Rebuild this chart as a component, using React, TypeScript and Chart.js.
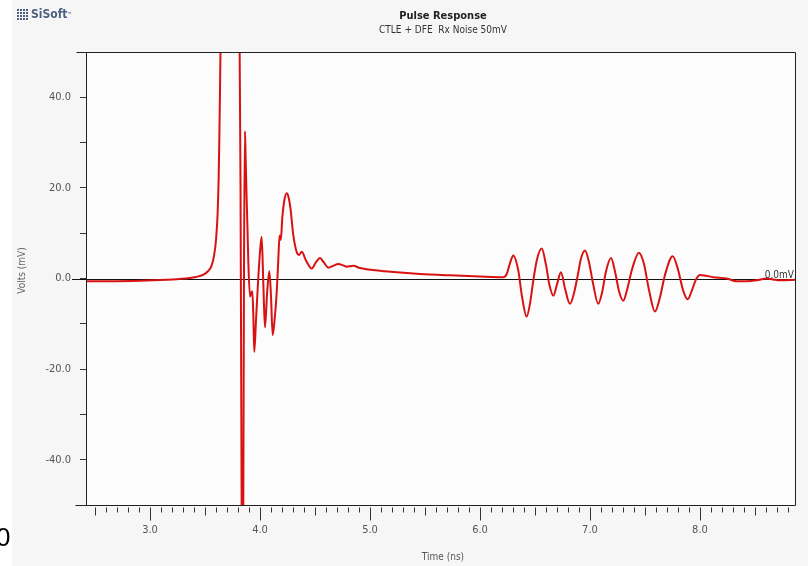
import React, { useEffect, useRef } from "react";
import { Chart, registerables } from "chart.js";

Chart.register(...registerables);

// ---- data ----
const TIME_NS = [
  2.418, 2.636, 2.909, 3.091, 3.209, 3.327, 3.418, 3.482, 3.527, 3.559, 3.582, 3.6, 3.614, 3.624, 3.631, 3.638,
  3.647, 3.673, 3.727, 3.782, 3.809, 3.823, 3.833, 3.84, 3.847, 3.855, 3.863, 3.869, 3.877, 3.885, 3.894,
  3.909, 3.92, 3.93, 3.939, 3.948, 3.964, 3.984, 4.002, 4.015, 4.03, 4.045, 4.065, 4.085, 4.1, 4.115, 4.133,
  4.152, 4.166, 4.178, 4.189, 4.203, 4.223, 4.243, 4.259, 4.277, 4.303, 4.334, 4.356, 4.379, 4.418, 4.47,
  4.509, 4.545, 4.582, 4.621, 4.664, 4.712, 4.755, 4.788, 4.848, 4.909, 5.091, 5.273, 5.455, 5.727, 6.0,
  6.212, 6.243, 6.273, 6.303, 6.348, 6.382, 6.424, 6.455, 6.485, 6.518, 6.561, 6.6, 6.632, 6.667, 6.7,
  6.736, 6.773, 6.818, 6.855, 6.891, 6.918, 6.955, 6.991, 7.027, 7.075, 7.109, 7.145, 7.191, 7.227, 7.264,
  7.303, 7.336, 7.382, 7.445, 7.491, 7.536, 7.591, 7.636, 7.682, 7.752, 7.8, 7.845, 7.888, 7.927, 7.964,
  8.0, 8.055, 8.121, 8.243, 8.333, 8.418, 8.515, 8.606, 8.664, 8.727, 8.873,
];
const VOLTS_MV = [
  -0.6, -0.6, -0.5, -0.35, -0.2, 0.0, 0.35, 0.8, 1.6, 2.8, 5.0, 8.5, 14, 22, 32, 45,
  62, 110, 175, 140, 70, 20, -50, -110, -60, 5, 32.5, 27, 19, 12, 3.5,
  -4, -3.2, -2.8, -8, -16.2, -9, 0, 6.5, 9.2, -1, -10.8, -3, 1.6, -4, -12.5, -9,
  -3, 4, 9.5, 8.5, 13.5, 17.5, 18.8, 18, 15.5, 9.5, 5.8, 5.2, 5.9, 4.0, 2.2,
  3.6, 4.5, 3.5, 2.4, 2.8, 3.2, 2.9, 2.6, 2.8, 2.3, 1.7, 1.3, 1.0, 0.7, 0.45,
  0.3, 1.0, 3.4, 5.1, 1.8, -4, -8.4, -5.5, -0.4, 4.2, 6.6, 3, -1.5, -3.8, -1.3,
  1.4, -2.2, -5.6, -3.2, 1, 4.4, 6.2, 3.6, -1, -5.6, -3.2, 1.5, 4.5, 1.6, -2.8,
  -4.9, -2.6, 2, 5.7, 3.2, -2.5, -7.3, -4.2, 0.8, 4.9, 2, -2.5, -4.6, -2.6, -0.2,
  0.8, 0.6, 0.3, 0, -0.6, -0.6, -0.4, 0, -0.2, -0.4, -0.3,
];

const X_TICKS = [3, 4, 5, 6, 7, 8];
const Y_TICKS = [-40, -30, -20, -10, 0, 10, 20, 30, 40];
const Y_LABELED = [-40, -20, 0, 20, 40];
const X_MIN = 2.418;
const X_MAX = 8.873;
const Y_MIN = -50;
const Y_MAX = 50;
const X_MINOR_STEP = 0.1;

const TITLE = "Pulse Response";
const SUBTITLE = "CTLE + DFE  Rx Noise 50mV";
const X_TITLE = "Time (ns)";
const Y_TITLE = "Volts (mV)";
const REF_LABEL = "0.0mV";

const FONT = '"DejaVu Sans Condensed", "DejaVu Sans", sans-serif';
const LINE_COLOR = "#d81212";

const framePlugin = {
  id: "frame",
  beforeDraw(chart: any) {
    const { ctx, width, height, chartArea: a } = chart;
    ctx.save();
    ctx.fillStyle = "#ffffff";
    ctx.fillRect(0, 0, width, height);
    ctx.fillStyle = "#f6f6f6";
    ctx.fillRect(12, 0, width - 12, height);
    ctx.fillStyle = "#fcfcfc";
    ctx.fillRect(a.left, a.top, a.right - a.left, a.bottom - a.top);
    ctx.restore();
  },
  beforeDatasetsDraw(chart: any) {
    const { ctx, chartArea: a } = chart;
    const y0 = Math.round(chart.scales.y.getPixelForValue(0)) + 0.5;
    ctx.save();
    ctx.strokeStyle = "#111";
    ctx.lineWidth = 1;
    ctx.beginPath();
    ctx.moveTo(a.left - 14, y0);
    ctx.lineTo(a.right, y0);
    ctx.stroke();
    ctx.restore();
  },
  afterDraw(chart: any) {
    const { ctx, chartArea: a } = chart;
    const xs = chart.scales.x;
    const ys = chart.scales.y;
    ctx.save();
    ctx.strokeStyle = "#222";
    ctx.lineWidth = 1;
    const L = Math.round(a.left) + 0.5;
    const R = Math.round(a.right) - 0.5;
    const T = Math.round(a.top) + 0.5;
    const B = Math.round(a.bottom) + 0.5;
    ctx.beginPath();
    ctx.moveTo(L - 10, T);
    ctx.lineTo(R, T);
    ctx.moveTo(L - 11, B);
    ctx.lineTo(R, B);
    ctx.moveTo(L, T);
    ctx.lineTo(L, B);
    ctx.moveTo(R, T);
    ctx.lineTo(R, B);
    ctx.stroke();

    // x tick marks: minor 0.1, half 0.5, major 1.0
    ctx.strokeStyle = "#333";
    ctx.beginPath();
    const first = Math.ceil(X_MIN / X_MINOR_STEP);
    const last = Math.floor(X_MAX / X_MINOR_STEP);
    for (let k = first; k <= last; k++) {
      const x = Math.round(xs.getPixelForValue(k * X_MINOR_STEP)) + 0.5;
      const len = k % 10 === 0 ? 13 : k % 5 === 0 ? 8 : 5;
      ctx.moveTo(x, B + 2);
      ctx.lineTo(x, B + 2 + len);
    }
    ctx.stroke();

    // texts
    const cx = (a.left + a.right) / 2 + 2;
    ctx.textAlign = "center";
    ctx.textBaseline = "alphabetic";
    ctx.fillStyle = "#222";
    ctx.font = `bold 11px ${FONT}`;
    ctx.fillText(TITLE, cx, 19);
    ctx.fillStyle = "#333";
    ctx.font = `10px ${FONT}`;
    ctx.fillText(SUBTITLE, cx, 33);

    ctx.fillStyle = "#555";
    ctx.font = `10px ${FONT}`;
    ctx.textBaseline = "middle";
    ctx.fillText(X_TITLE, cx, 557);

    ctx.save();
    ctx.translate(22, (a.top + a.bottom) / 2 - 8);
    ctx.rotate(-Math.PI / 2);
    ctx.fillStyle = "#666";
    ctx.fillText(Y_TITLE, 0, 0);
    ctx.restore();

    ctx.textAlign = "right";
    ctx.textBaseline = "alphabetic";
    ctx.fillStyle = "#333";
    ctx.fillText(REF_LABEL, a.right - 2, ys.getPixelForValue(0) - 1);
    ctx.restore();
  },
};

export default function App() {
  const ref = useRef<HTMLCanvasElement | null>(null);

  useEffect(() => {
    if (!ref.current) return;
    const chart = new Chart(ref.current, {
      type: "line",
      data: {
        datasets: [
          {
            data: TIME_NS.map((t, i) => ({ x: t, y: VOLTS_MV[i] })),
            borderColor: LINE_COLOR,
            borderWidth: 2,
            pointRadius: 0,
            cubicInterpolationMode: "monotone",
            fill: false,
          },
        ],
      },
      options: {
        animation: false,
        responsive: false,
        devicePixelRatio: 1,
        layout: { padding: { left: 13, right: 12, top: 52, bottom: 0 } },
        plugins: {
          legend: { display: false },
          title: { display: false },
          tooltip: { enabled: false },
        },
        scales: {
          x: {
            type: "linear",
            min: X_MIN,
            max: X_MAX,
            afterBuildTicks: (s: any) => {
              s.ticks = X_TICKS.map((v) => ({ value: v }));
            },
            afterFit: (s: any) => {
              s.height = 61;
            },
            border: { display: false },
            grid: { drawOnChartArea: false, tickLength: 15, tickColor: "rgba(0,0,0,0)", color: "rgba(0,0,0,0)" },
            ticks: {
              autoSkip: false,
              maxRotation: 0,
              padding: 4,
              color: "#555",
              font: { family: FONT, size: 11 },
              callback: (v: any) => Number(v).toFixed(1),
            },
          },
          y: {
            type: "linear",
            min: Y_MIN,
            max: Y_MAX,
            afterBuildTicks: (s: any) => {
              s.ticks = Y_TICKS.map((v) => ({ value: v }));
            },
            afterFit: (s: any) => {
              s.width = 73;
            },
            border: { display: false },
            grid: { drawOnChartArea: false, tickLength: 6, tickColor: "#333", color: "rgba(0,0,0,0)" },
            ticks: {
              autoSkip: false,
              padding: 9,
              color: "#555",
              font: { family: FONT, size: 11 },
              callback: (v: any) => (Y_LABELED.includes(Number(v)) ? Number(v).toFixed(1) : ""),
            },
          },
        },
      },
      plugins: [framePlugin],
    } as any);
    return () => chart.destroy();
  }, []);

  return (
    <div style={{ position: "absolute", left: 0, top: 0, width: 808, height: 566, overflow: "hidden" }}>
      <canvas ref={ref} width={808} height={566} style={{ position: "absolute", left: 0, top: 0, display: "block" }} />
      <div
        style={{
          position: "absolute",
          left: 17,
          top: 7,
          display: "flex",
          alignItems: "center",
          gap: 3,
          color: "#4b5e80",
          fontFamily: FONT,
          fontWeight: "bold",
          fontSize: 12,
          lineHeight: "14px",
        }}
      >
        <span
          style={{
            display: "inline-block",
            width: 11,
            height: 11,
            background:
              "repeating-linear-gradient(0deg, transparent 0 2px, #f6f6f6 2px 3px), repeating-linear-gradient(90deg, #4b5e80 0 2px, transparent 2px 3px)",
          }}
        />
        <span>
          SiSoft<span style={{ fontSize: 5, verticalAlign: "top" }}>™</span>
        </span>
      </div>
      <div
        style={{
          position: "absolute",
          left: -4,
          top: 524,
          fontFamily: '"Liberation Sans", Arial, sans-serif',
          fontSize: 26,
          lineHeight: "26px",
          color: "#000",
        }}
      >
        0
      </div>
    </div>
  );
}
